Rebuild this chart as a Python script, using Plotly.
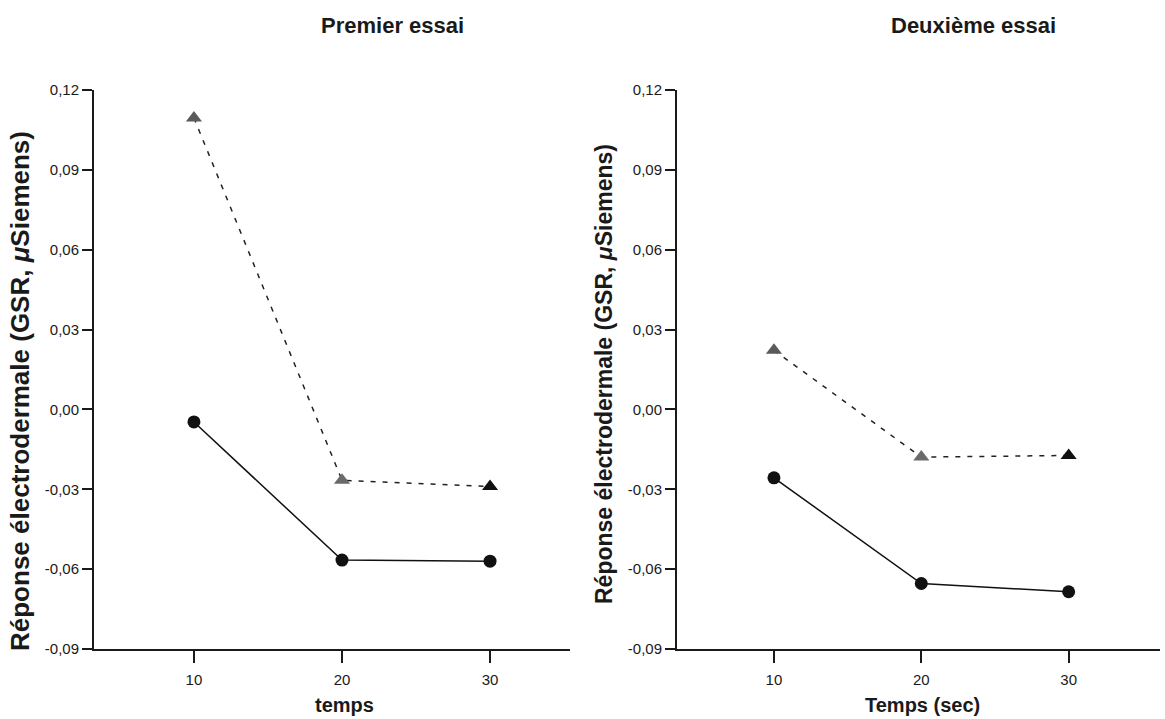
import plotly.graph_objects as go

temps = [10, 20, 30]
premier_cercles = [-0.0047, -0.0566, -0.0570]
premier_triangles = [0.1095, -0.0266, -0.0290]
deuxieme_cercles = [-0.0257, -0.0654, -0.0685]
deuxieme_triangles = [0.0222, -0.0179, -0.0173]
triangle_couleurs = ["#5a5a5a", "#6a6a6a", "#111111"]

y_ticks = [-0.09, -0.06, -0.03, 0.0, 0.03, 0.06, 0.09, 0.12]
y_ticktext = ["-0,09", "-0,06", "-0,03", "0,00", "0,03", "0,06", "0,09", "0,12"]
x_ticks = [10, 20, 30]
x_ticktext = ["10", "20", "30"]

titres = ["Premier essai", "Deuxième essai"]
x_titres = ["temps", "Temps (sec)"]
y_titre = "Réponse électrodermale (GSR, <i>μ</i>Siemens)"

FONT = "Liberation Sans, Arial, sans-serif"
W, H = 1165, 719

fig = go.Figure()

panels = [
    (premier_cercles, premier_triangles, "x", "y"),
    (deuxieme_cercles, deuxieme_triangles, "x2", "y2"),
]
for cercles, triangles, xa, ya in panels:
    fig.add_trace(go.Scatter(
        x=temps, y=triangles, xaxis=xa, yaxis=ya, mode="lines+markers",
        line=dict(color="#222222", width=1.5, dash="5px,7px"),
        marker=dict(symbol="triangle-up", size=14, color=triangle_couleurs),
        showlegend=False, cliponaxis=False))
    fig.add_trace(go.Scatter(
        x=temps, y=cercles, xaxis=xa, yaxis=ya, mode="lines+markers",
        line=dict(color="#111111", width=1.5),
        marker=dict(symbol="circle", size=13, color="#111111"),
        showlegend=False, cliponaxis=False))

ydom = [(H - 649) / H, (H - 90) / H]
xdoms = [[94 / W, 570 / W], [677 / W, 1160 / W]]
xranges = [[3.25, 35.4], [3.42, 36.2]]

common_axis = dict(
    showline=True, linecolor="#1a1a1a", linewidth=2,
    ticks="outside", tickwidth=2, tickcolor="#1a1a1a",
    showgrid=False, zeroline=False,
    tickfont=dict(family=FONT, size=15, color="#1a1a1a"),
    automargin=False,
)

for i in range(2):
    sfx = "" if i == 0 else str(i + 1)
    fig.layout["xaxis" + sfx] = dict(
        common_axis, domain=xdoms[i], range=xranges[i],
        tickvals=x_ticks, ticktext=x_ticktext, ticklen=12,
        ticklabelstandoff=4,
        anchor="y" + sfx)
    fig.layout["yaxis" + sfx] = dict(
        common_axis, domain=ydom, range=[-0.09, 0.12],
        tickvals=y_ticks, ticktext=y_ticktext, ticklen=10,
        anchor="x" + sfx)

annotations = []
title_x = [392, 973]
xt_x = [344, 922]
yt_x = [20, 604]
yt_y = [391, 374]
yt_size = [26, 23]
for i in range(2):
    annotations.append(dict(
        text="<b>%s</b>" % titres[i], x=title_x[i] / W, y=(H - 26) / H,
        xref="paper", yref="paper", showarrow=False,
        font=dict(family=FONT, size=22, color="#1a1a1a"),
        xanchor="center", yanchor="middle"))
    annotations.append(dict(
        text="<b>%s</b>" % x_titres[i], x=xt_x[i] / W, y=(H - 705) / H,
        xref="paper", yref="paper", showarrow=False,
        font=dict(family=FONT, size=20, color="#1a1a1a"),
        xanchor="center", yanchor="middle"))
    annotations.append(dict(
        text="<b>%s</b>" % y_titre, x=yt_x[i] / W, y=(H - yt_y[i]) / H,
        xref="paper", yref="paper", showarrow=False, textangle=-90,
        font=dict(family=FONT, size=yt_size[i], color="#1a1a1a"),
        xanchor="center", yanchor="middle"))

fig.update_layout(
    width=W, height=H,
    margin=dict(l=0, r=0, t=0, b=0),
    paper_bgcolor="white", plot_bgcolor="white",
    annotations=annotations,
)

fig.write_html("out.html")
